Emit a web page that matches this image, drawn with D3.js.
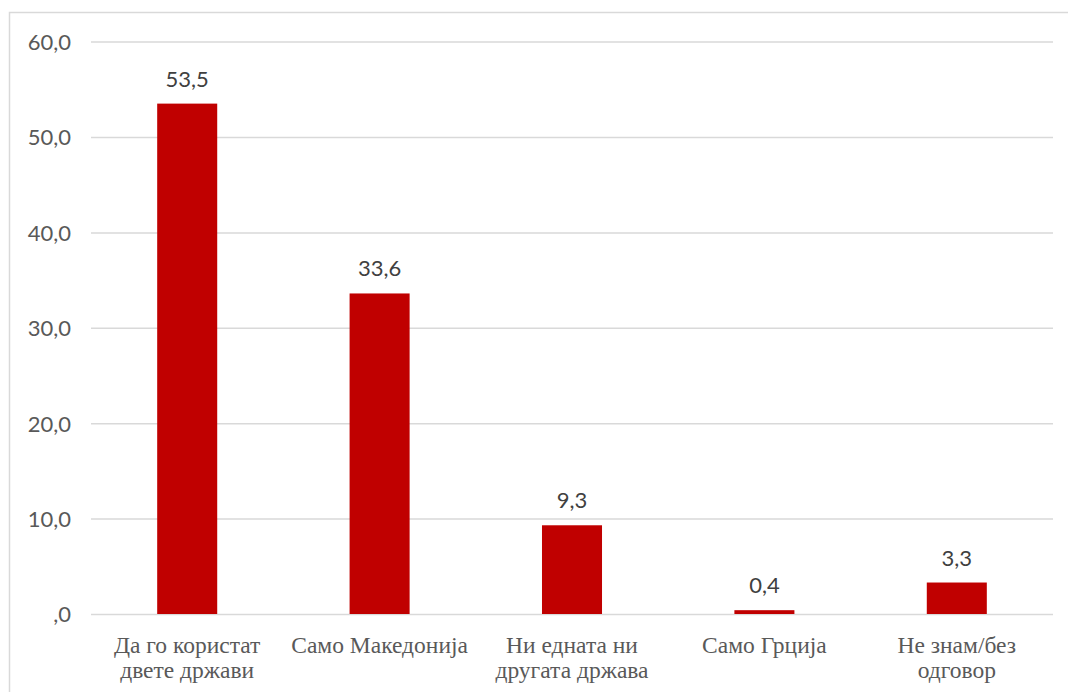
<!DOCTYPE html>
<html><head><meta charset="utf-8">
<script src="https://cdn.jsdelivr.net/npm/d3@7"></script>
<style>body{margin:0;background:#fff;}</style>
</head><body>
<svg id="chart" width="1068" height="692"></svg>
<script>
const categories = [["Да го користат","двете држави"],["Само Македонија"],["Ни едната ни","другата држава"],["Само Грција"],["Не знам/без","одговор"]];
const values = [53.5, 33.6, 9.3, 0.4, 3.3];
const yTicks = [0,10,20,30,40,50,60];

const svg = d3.select("#chart");
const m = {left:91, right:1053, top:41.6, bottom:614};
const fmt = v => v.toFixed(1).replace(".", ",").replace(/^0,0$/, ",0");

svg.append("rect").attr("x",9.5).attr("y",12.5).attr("width",1068).attr("height",700)
  .attr("fill","#fff").attr("stroke","#d9d9d9").attr("stroke-width",1.5);

const x = d3.scaleBand().domain(d3.range(categories.length)).range([m.left,m.right]).paddingInner(0.688).paddingOuter(0.344);
const y = d3.scaleLinear().domain([0,60]).range([m.bottom,m.top]);

const yAxis = d3.axisLeft(y).tickValues(yTicks).tickSize(-(m.right-m.left)).tickFormat(fmt).tickPadding(20);
const gy = svg.append("g").attr("transform",`translate(${m.left},0)`).call(yAxis);
gy.select(".domain").remove();
gy.selectAll(".tick line").attr("stroke","#d9d9d9").attr("stroke-width",1.5);
gy.selectAll(".tick text").attr("fill","#595959").style("font-family","Lato, 'Open Sans', sans-serif").style("font-size","22px").attr("dy","0.36em");

svg.append("g").selectAll("rect").data(values).join("rect")
  .attr("x",(d,i)=>x(i)).attr("width",x.bandwidth())
  .attr("y",d=>y(d)).attr("height",d=>y(0)-y(d)).attr("fill","#c00000");

svg.append("g").selectAll("text").data(values).join("text")
  .attr("x",(d,i)=>x(i)+x.bandwidth()/2).attr("y",d=>y(d)-17)
  .attr("text-anchor","middle").attr("fill","#404040")
  .style("font-family","Lato, 'Open Sans', sans-serif").style("font-size","22px")
  .text(d=>fmt(d));

const xl = svg.append("g").selectAll("text").data(categories).join("text")
  .attr("text-anchor","middle").attr("fill","#595959")
  .style("font-family","'Liberation Serif', serif").style("font-size","23.5px");
xl.each(function(lines,i){
  const t = d3.select(this);
  lines.forEach((ln,k)=>{
    t.append("tspan").attr("x",x(i)+x.bandwidth()/2).attr("y",y(0)+39+k*25).text(ln);
  });
});
</script>
</body></html>
